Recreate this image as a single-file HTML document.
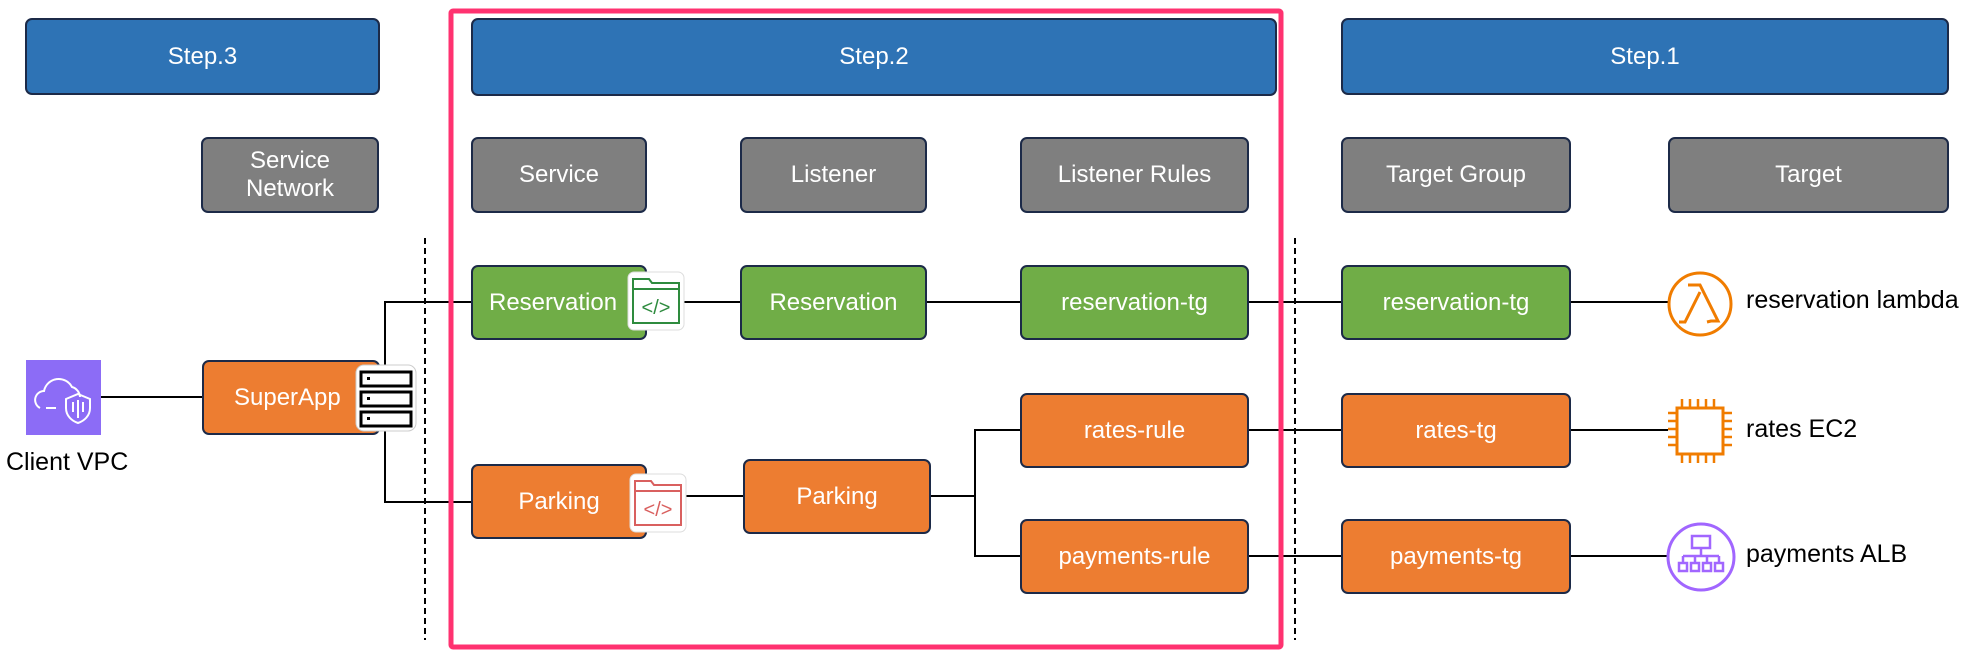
<!DOCTYPE html>
<html><head><meta charset="utf-8"><style>
body{margin:0;width:1986px;height:666px;background:#fff;position:relative;overflow:hidden;font-family:"Liberation Sans","DejaVu Sans",sans-serif}
.b{position:absolute;box-sizing:border-box;border:2px solid #1c2a48;border-radius:7px;color:#fff;font-size:24px;display:flex;align-items:center;justify-content:center;text-align:center;line-height:1.15}
.blue{background:#2e73b5}.gray{background:#7f7f7f}.green{background:#70ad47}.orange{background:#ed7d31}
.t{position:absolute;font-size:25px;color:#000;white-space:nowrap}
svg{position:absolute;left:0;top:0}
</style></head><body>
<svg width="1986" height="666">
<g stroke="#000" stroke-width="2" fill="none">
<line x1="101" y1="397" x2="202" y2="397"/>
<polyline points="471,302 385,302 385,502 471,502"/>
<line x1="684" y1="302" x2="740" y2="302"/>
<line x1="927" y1="302" x2="1020" y2="302"/>
<line x1="1249" y1="302" x2="1341" y2="302"/>
<line x1="1571" y1="302" x2="1668" y2="302"/>
<line x1="685" y1="496" x2="743" y2="496"/>
<line x1="931" y1="496" x2="975" y2="496"/>
<polyline points="1020,430 975,430 975,556 1020,556"/>
<line x1="1249" y1="430" x2="1341" y2="430"/>
<line x1="1249" y1="556" x2="1341" y2="556"/>
<line x1="1571" y1="430" x2="1668" y2="430"/>
<line x1="1571" y1="556" x2="1668" y2="556"/>
</g>
<g stroke="#000" stroke-width="2" stroke-dasharray="6,4">
<line x1="425" y1="238" x2="425" y2="640"/>
<line x1="1295" y1="238" x2="1295" y2="640"/>
</g>
<rect x="451" y="11" width="830" height="636" fill="none" stroke="#ff3270" stroke-width="5" rx="2"/>
</svg>
<div class="b blue" style="left:25px;top:18px;width:355px;height:77px">Step.3</div>
<div class="b blue" style="left:471px;top:18px;width:806px;height:78px">Step.2</div>
<div class="b blue" style="left:1341px;top:18px;width:608px;height:77px">Step.1</div>
<div class="b gray" style="left:201px;top:137px;width:178px;height:76px">Service<br>Network</div>
<div class="b gray" style="left:471px;top:137px;width:176px;height:76px">Service</div>
<div class="b gray" style="left:740px;top:137px;width:187px;height:76px">Listener</div>
<div class="b gray" style="left:1020px;top:137px;width:229px;height:76px">Listener Rules</div>
<div class="b gray" style="left:1341px;top:137px;width:230px;height:76px">Target Group</div>
<div class="b gray" style="left:1668px;top:137px;width:281px;height:76px">Target</div>

<div class="b green" style="left:471px;top:265px;width:176px;height:75px;justify-content:flex-start;padding-left:16px">Reservation</div>
<div class="b green" style="left:740px;top:265px;width:187px;height:75px">Reservation</div>
<div class="b green" style="left:1020px;top:265px;width:229px;height:75px">reservation-tg</div>
<div class="b green" style="left:1341px;top:265px;width:230px;height:75px">reservation-tg</div>

<div class="b orange" style="left:202px;top:360px;width:178px;height:75px;justify-content:flex-start;padding-left:30px">SuperApp</div>
<div class="b orange" style="left:471px;top:464px;width:176px;height:75px">Parking</div>
<div class="b orange" style="left:743px;top:459px;width:188px;height:75px">Parking</div>
<div class="b orange" style="left:1020px;top:393px;width:229px;height:75px">rates-rule</div>
<div class="b orange" style="left:1020px;top:519px;width:229px;height:75px">payments-rule</div>
<div class="b orange" style="left:1341px;top:393px;width:230px;height:75px">rates-tg</div>
<div class="b orange" style="left:1341px;top:519px;width:230px;height:75px">payments-tg</div>

<svg style="left:627px;top:271px" width="58" height="60" viewBox="0 0 58 60"><rect x="1" y="1" width="56" height="58" rx="6" fill="#fff" stroke="#ddd"/><path d="M6 8h16l3 4h27v40H6z" fill="#fff" stroke="#2e8b3e" stroke-width="2"/><line x1="6" y1="18" x2="52" y2="18" stroke="#2e8b3e" stroke-width="2"/><text x="29" y="43" font-size="20" fill="#2e8b3e" text-anchor="middle" font-family="Liberation Sans">&lt;/&gt;</text></svg>
<svg style="left:629px;top:473px" width="58" height="60" viewBox="0 0 58 60"><rect x="1" y="1" width="56" height="58" rx="6" fill="#fff" stroke="#ddd"/><path d="M6 8h16l3 4h27v40H6z" fill="#fff" stroke="#d9605f" stroke-width="2"/><line x1="6" y1="18" x2="52" y2="18" stroke="#d9605f" stroke-width="2"/><text x="29" y="43" font-size="20" fill="#d9605f" text-anchor="middle" font-family="Liberation Sans">&lt;/&gt;</text></svg>
<svg style="left:355px;top:364px" width="62" height="68" viewBox="0 0 62 68"><rect x="1" y="1" width="60" height="66" rx="8" fill="#fff" stroke="#ccc"/><g fill="#fff" stroke="#000" stroke-width="3"><rect x="6" y="8" width="50" height="14"/><rect x="6" y="28" width="50" height="14"/><rect x="6" y="48" width="50" height="14"/></g><g fill="#000"><rect x="12" y="13" width="3" height="3"/><rect x="12" y="33" width="3" height="3"/><rect x="12" y="53" width="3" height="3"/></g></svg>
<svg style="left:26px;top:360px" width="75" height="75" viewBox="0 0 75 75"><rect width="75" height="75" fill="#8c6cf6"/><path d="M20 48h10M14 48a9 9 0 0 1 4-17a15 15 0 0 1 28-4a11 11 0 0 1 8 10" fill="none" stroke="#fff" stroke-width="2"/><path d="M52 34l12 5v9c0 8-6 13-12 15c-6-2-12-7-12-15v-9z" fill="none" stroke="#fff" stroke-width="2"/><path d="M52 40v18M47 42v10M57 42v10" stroke="#fff" stroke-width="2"/></svg>
<div class="t" style="left:6px;top:448px">Client VPC</div>
<svg style="left:1666px;top:270px" width="68" height="68" viewBox="0 0 68 68"><circle cx="34" cy="34" r="31" fill="#fff" stroke="#f07c00" stroke-width="3"/><path d="M22 15h12l18 36h-7l-4 1M34 22l-15 30h-6" fill="none" stroke="#f07c00" stroke-width="3"/></svg>
<div class="t" style="left:1746px;top:286px">reservation lambda</div>
<svg style="left:1666px;top:397px" width="68" height="68" viewBox="0 0 68 68"><rect x="11" y="11" width="46" height="46" fill="#fff" stroke="#f07c00" stroke-width="3"/><g stroke="#f07c00" stroke-width="2.5"><path d="M16 2v9M24 2v9M32 2v9M40 2v9M48 2v9M16 57v9M24 57v9M32 57v9M40 57v9M48 57v9M2 16h9M2 24h9M2 32h9M2 40h9M2 48h9M57 16h9M57 24h9M57 32h9M57 40h9M57 48h9"/></g></svg>
<div class="t" style="left:1746px;top:415px">rates EC2</div>
<svg style="left:1665px;top:521px" width="72" height="72" viewBox="0 0 72 72"><circle cx="36" cy="36" r="33" fill="#fff" stroke="#a166ff" stroke-width="3"/><g fill="none" stroke="#a166ff" stroke-width="2.5"><rect x="27" y="15" width="18" height="12"/><path d="M36 27v8M18 35h36M18 35v7M30 35v7M42 35v7M54 35v7"/><rect x="14" y="42" width="8" height="8"/><rect x="26" y="42" width="8" height="8"/><rect x="38" y="42" width="8" height="8"/><rect x="50" y="42" width="8" height="8"/></g></svg>
<div class="t" style="left:1746px;top:540px">payments ALB</div>
</body></html>
